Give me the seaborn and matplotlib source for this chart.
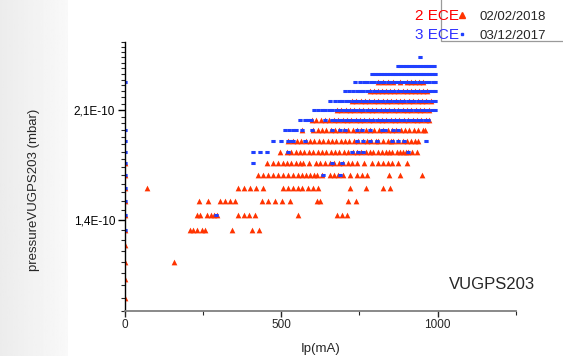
import matplotlib
matplotlib.use("Agg")
import matplotlib.pyplot as plt
import matplotlib.ticker as mticker
from matplotlib.patches import Rectangle
from matplotlib.lines import Line2D
import numpy as np
import pandas as pd
import seaborn as sns

# pressure levels (x 1e-10 mbar), gauge is quantised
levels = [1.05, 1.125, 1.2, 1.275, 1.35, 1.425, 1.5, 1.575, 1.65, 1.725, 1.8,
          1.875, 1.95, 2.025, 2.1, 2.175, 2.25, 2.325, 2.4, 2.475, 2.55]

# 2 ECE, 02/02/2018 : Ip (mA) values per pressure level
red_105 = [0]
red_1125 = [0]
red_120 = [0, 157]
red_1275 = [0]
red_135 = [0, 208, 218, 230, 246, 256, 342, 406, 429]
red_1425 = [0, 230, 240, 262, 275, 285, 294, 362, 381, 397, 416, 554, 678, 694, 710]
red_150 = [0, 237, 266, 304, 320, 336, 352, 438, 458, 480, 502, 528, 614, 624, 714, 739]
red_1575 = [0, 70, 362, 381, 400, 419, 442, 506, 522, 538, 554, 566, 586, 602, 618,
            720, 771, 826, 848]
red_165 = [0, 426, 442, 458, 474, 490, 506, 522, 538, 554, 566, 579, 592, 605, 614,
           630, 656, 669, 682, 698, 720, 742, 758, 774, 845, 880, 950]
red_1725 = [0, 454, 474, 490, 504, 518, 532, 546, 560, 570, 590, 610, 624, 640, 656,
            670, 684, 698, 712, 726, 742, 765, 790, 810, 826, 842, 854, 874, 902]
red_180 = [496, 518, 532, 546, 560, 574, 588, 602, 616, 630, 644, 658, 672, 686, 700,
           714, 728, 742, 756, 770, 784, 794, 810, 822, 834, 846, 854, 870, 880, 890,
           900, 906, 918, 934]
red_1875 = [522, 536, 550, 564, 578, 592, 606, 620, 634, 648, 662, 676, 690, 704, 718,
            732, 746, 760, 774, 788, 802, 810, 826, 842, 852, 858, 874, 890, 902, 914,
            928, 938]
red_195 = [566, 602, 616, 630, 644, 658, 672, 686, 700, 714, 728, 742, 756, 770, 784,
           798, 812, 826, 840, 854, 868, 882, 896, 910, 924, 938, 952, 960]
red_2025 = [598, 612, 626, 640, 654, 668, 682, 696, 710, 724, 738, 752, 766, 780, 794,
            808, 822, 836, 850, 864, 878, 892, 906, 920, 934, 948, 962, 974]
red_210 = [678, 692, 706, 720, 734, 748, 762, 776, 790, 804, 818, 832, 846, 860, 874,
           888, 902, 916, 930, 944, 958, 972]
red_2175 = [726, 740, 754, 768, 782, 796, 810, 824, 838, 852, 866, 880, 894, 908, 922,
            936, 950, 964, 978]
red_225 = [784, 797, 810, 823, 836, 849, 862, 875, 888, 901, 914, 927, 940, 953, 966]
red_2325 = [810, 826, 842, 858, 880, 902, 915, 928, 941, 954]
red_240 = []
red_2475 = []
red_255 = []

# 3 ECE, 03/12/2017 : Ip (mA) values per pressure level
blue_105 = []
blue_1125 = []
blue_120 = []
blue_1275 = []
blue_135 = [0]
blue_1425 = [0, 291]
blue_150 = [0]
blue_1575 = [0]
blue_165 = [0, 634, 688]
blue_1725 = [0, 410, 662, 694]
blue_180 = [0, 410, 432, 454, 522, 726, 746, 762, 906]
blue_1875 = [0, 474, 499, 522, 531, 538, 576, 742, 762, 784, 806, 854, 874, 893, 963]
blue_195 = [0, 512, 524, 536, 548, 566, 598, 662, 688, 704, 742, 758, 784, 822, 832,
            858, 874]
blue_2025 = [560, 576, 586, 596, 640, 662, 673, 684, 695, 706, 717, 728, 739, 750, 761,
             772, 783, 794, 805, 816, 827, 838, 849, 860, 871, 882, 893, 904, 915, 926,
             937, 948, 959, 970]
blue_210 = [605, 618, 630, 641, 652, 663, 674, 685, 696, 707, 718, 729, 740, 751, 762,
            773, 784, 795, 806, 817, 828, 839, 850, 861, 872, 883, 894, 905, 916, 927,
            938, 949, 960, 971, 982, 993]
blue_2175 = [656, 672, 684, 695, 706, 717, 728, 739, 750, 761, 772, 783, 794, 805, 816,
             827, 838, 849, 860, 871, 882, 893, 904, 915, 926, 937, 948, 959, 970, 981,
             992]
blue_225 = [704, 718, 730, 741, 752, 763, 774, 785, 796, 807, 818, 829, 840, 851, 862,
            873, 884, 895, 906, 917, 928, 939, 950, 961, 972, 983, 993]
blue_2325 = [0, 736, 752, 764, 775, 786, 797, 808, 819, 830, 841, 852, 863, 874, 885,
             896, 907, 918, 929, 940, 951, 962, 973, 984, 993]
blue_240 = [790, 800, 810, 820, 829, 838, 847, 856, 865, 874, 883, 892, 901, 910, 919,
            928, 937, 946, 955, 964, 973, 982, 991]
blue_2475 = [872, 881, 890, 899, 908, 917, 926, 935, 944, 953, 962, 971, 980, 989]
blue_255 = [944]

red_rows = [red_105, red_1125, red_120, red_1275, red_135, red_1425, red_150, red_1575,
            red_165, red_1725, red_180, red_1875, red_195, red_2025, red_210, red_2175,
            red_225, red_2325, red_240, red_2475, red_255]
blue_rows = [blue_105, blue_1125, blue_120, blue_1275, blue_135, blue_1425, blue_150,
             blue_1575, blue_165, blue_1725, blue_180, blue_1875, blue_195, blue_2025,
             blue_210, blue_2175, blue_225, blue_2325, blue_240, blue_2475, blue_255]


def to_frame(rows):
    recs = []
    for lvl, ips in zip(levels, rows):
        for ip in ips:
            recs.append({'Ip': ip, 'p': lvl * 1e-10})
    return pd.DataFrame(recs)


red_df = to_frame(red_rows)
blue_df = to_frame(blue_rows)

sns.set_style('white')
plt.rcParams['font.family'] = ['Liberation Sans', 'DejaVu Sans']

fig = plt.figure(figsize=(5.63, 3.56), dpi=100)
W, H = 563, 356

# light grey slide band on the left
bg = fig.add_axes([0, 0, 68 / W, 1], zorder=-5)
bg.imshow(np.linspace(0.925, 0.975, 50)[None, :], cmap='gray', vmin=0, vmax=1,
          aspect='auto', extent=[0, 1, 0, 1])
bg.axis('off')

ax = fig.add_axes([125 / W, 1 - 311 / H, (515.7 - 125) / W, (311 - 42) / H])
ax.set_facecolor('none')

# slightly wide blue dot so dense runs read as a continuous line
blue_mark = [(-1.4, -1), (1.4, -1), (1.4, 1), (-1.4, 1), (-1.4, -1)]

sns.scatterplot(data=red_df, x='Ip', y='p', marker='^', s=17, color='#ff3300',
                linewidth=0, ax=ax, legend=False)
sns.scatterplot(data=blue_df, x='Ip', y='p', marker=blue_mark, s=9.5, color='#2040ff',
                linewidth=0, ax=ax, legend=False, snap=False)

ax.set_yscale('log')
ax.set_ylim(1.0e-10, 2.7e-10)
ax.set_xlim(0, 1250)

ax.yaxis.set_major_locator(mticker.FixedLocator([1.4e-10, 2.1e-10]))
ax.yaxis.set_major_formatter(mticker.FixedFormatter(['1,4E-10', '2,1E-10']))
ax.yaxis.set_minor_locator(mticker.FixedLocator(np.arange(1.0, 2.71, 0.05) * 1e-10))
ax.yaxis.set_minor_formatter(mticker.NullFormatter())
ax.xaxis.set_major_locator(mticker.FixedLocator([0, 500, 1000]))
ax.xaxis.set_minor_locator(mticker.FixedLocator([250, 750, 1250]))

for s in ['top', 'right']:
    ax.spines[s].set_visible(False)
ax.spines['left'].set_color('black')
ax.spines['left'].set_linewidth(1.0)
ax.spines['bottom'].set_color('#808080')
ax.spines['bottom'].set_linewidth(1.3)

ax.tick_params(axis='y', which='major', length=5, width=1, direction='out',
               labelsize=8.5, pad=2, colors='black', left=True)
ax.tick_params(axis='y', which='minor', length=3, width=0.8, direction='out', left=True)
ax.tick_params(axis='x', which='major', length=4, width=1, direction='out',
               labelsize=8.5, pad=2, bottom=True)
ax.tick_params(axis='x', which='minor', length=3, width=0.8, direction='out', bottom=True)

ax.set_xlabel('Ip(mA)', fontsize=9.5)
ax.set_ylabel('pressureVUGPS203 (mbar)', fontsize=9.5)
ax.xaxis.set_label_coords(0.5, -(343 - 311) / (311 - 42))
ax.yaxis.set_label_coords((40 - 125) / (515.7 - 125), 0.45)

ax.text(0.939, 0.10, 'VUGPS203', transform=ax.transAxes, fontsize=12,
        ha='center', va='center')

# legend box (cut by the slide edges)
fig.patches.append(Rectangle((441 / W, 1 - 41 / H), 0.4, 0.3, transform=fig.transFigure,
                             facecolor='white', edgecolor='#9a9a9a', linewidth=0.9,
                             zorder=1))
handles = [Line2D([], [], marker='^', color='#ff3300', linestyle='none', markersize=4),
           Line2D([], [], marker='s', color='#2040ff', linestyle='none', markersize=2)]
leg = fig.legend(handles, ['02/02/2018', '03/12/2017'], loc='upper left',
                 bbox_to_anchor=(450 / W, 1 - 9 / H), frameon=False, fontsize=9.5,
                 handlelength=1.6, handletextpad=0.5, borderpad=0.1, labelspacing=0.55,
                 borderaxespad=0)
leg.set_zorder(2)

fig.text(437 / W, 1 - 16 / H, '2 ECE', color='#ff0000', fontsize=11,
         ha='center', va='center', zorder=4)
fig.text(437 / W, 1 - 35 / H, '3 ECE', color='#3030ff', fontsize=11,
         ha='center', va='center', zorder=4)

fig.savefig('out.png', dpi=100)
